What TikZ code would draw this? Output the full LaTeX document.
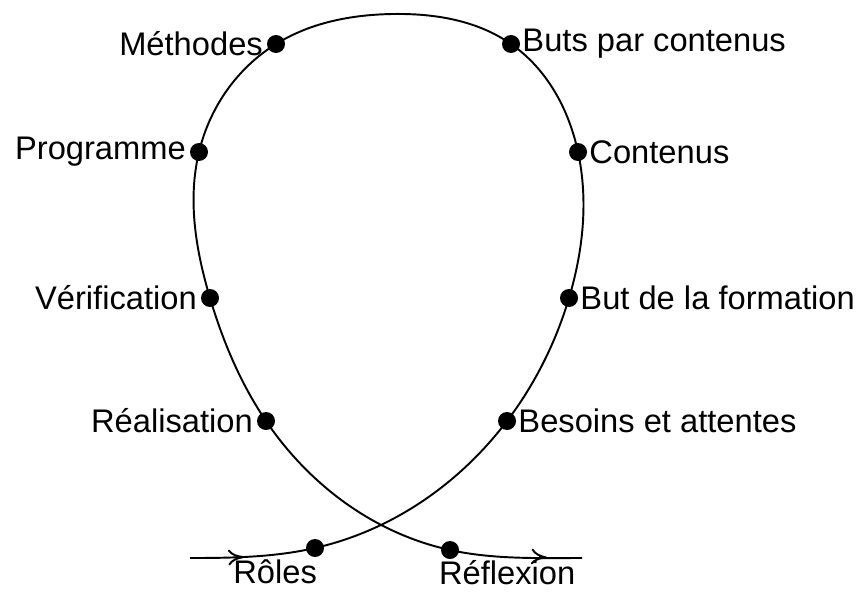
\documentclass[tikz,border=0pt]{standalone}
\usepackage{fontspec}
\setmainfont{Liberation Sans}
\usetikzlibrary{arrows.meta,hobby}
\begin{document}
\begin{tikzpicture}[x=0.02cm,y=-0.02cm,
  dot/.style={circle,fill=black,inner sep=0pt,minimum size=0.36cm},
  lbl/.style={font=\fontsize{18.6}{21}\selectfont,inner sep=1pt},
  curve/.style={line width=1.1pt},
  tip/.style={line width=1.1pt,-{To[length=9pt,width=9pt]}}]
\useasboundingbox (0,0) rectangle (857,591);
% dots
\node[dot] (met) at (276,44) {};
\node[dot] (prog) at (199,152) {};
\node[dot] (ver) at (210,298) {};
\node[dot] (rea) at (266,421) {};
\node[dot] (rol) at (315,548) {};
\node[dot] (buts) at (511,44) {};
\node[dot] (cont) at (578,152) {};
\node[dot] (but) at (569,298) {};
\node[dot] (bes) at (507,421) {};
\node[dot] (ref) at (450,550) {};
\coordinate (s) at (190,558);
\coordinate (a1) at (244,557);
\coordinate (b1) at (236,557.3);
\coordinate (top) at (393,14);
\coordinate (a2) at (547,557.5);
\coordinate (b2) at (539,557);
\coordinate (e) at (582,558);
% curve
\draw[curve,use Hobby shortcut] ([out angle=0]s) .. (rol.center) .. (bes.center) .. (but.center) .. (cont.center) .. (buts.center) .. (top) .. (met.center) .. (prog.center) .. (ver.center) .. (rea.center) .. (ref.center) .. ([in angle=180]e);
\draw[tip] (b1) -- (a1);
\draw[tip] (b2) -- (a2);
% labels
\node[lbl,anchor=east] at ([xshift=-1pt]met.west) {Méthodes};
\node[lbl,anchor=east] at ([xshift=-1pt]prog.west) {Programme};
\node[lbl,anchor=east] at ([xshift=-1pt]ver.west) {Vérification};
\node[lbl,anchor=east] at ([xshift=-1pt]rea.west) {Réalisation};
\node[lbl,anchor=west] at (buts.east) {Buts par contenus};
\node[lbl,anchor=west] at (cont.east) {Contenus};
\node[lbl,anchor=west] at (but.east) {But de la formation};
\node[lbl,anchor=west] at (bes.east) {Besoins et attentes};
\node[lbl,anchor=north east] at (319,558) {Rôles};
\node[lbl,anchor=north west] at (437,558) {Réflexion};
\end{tikzpicture}
\end{document}
